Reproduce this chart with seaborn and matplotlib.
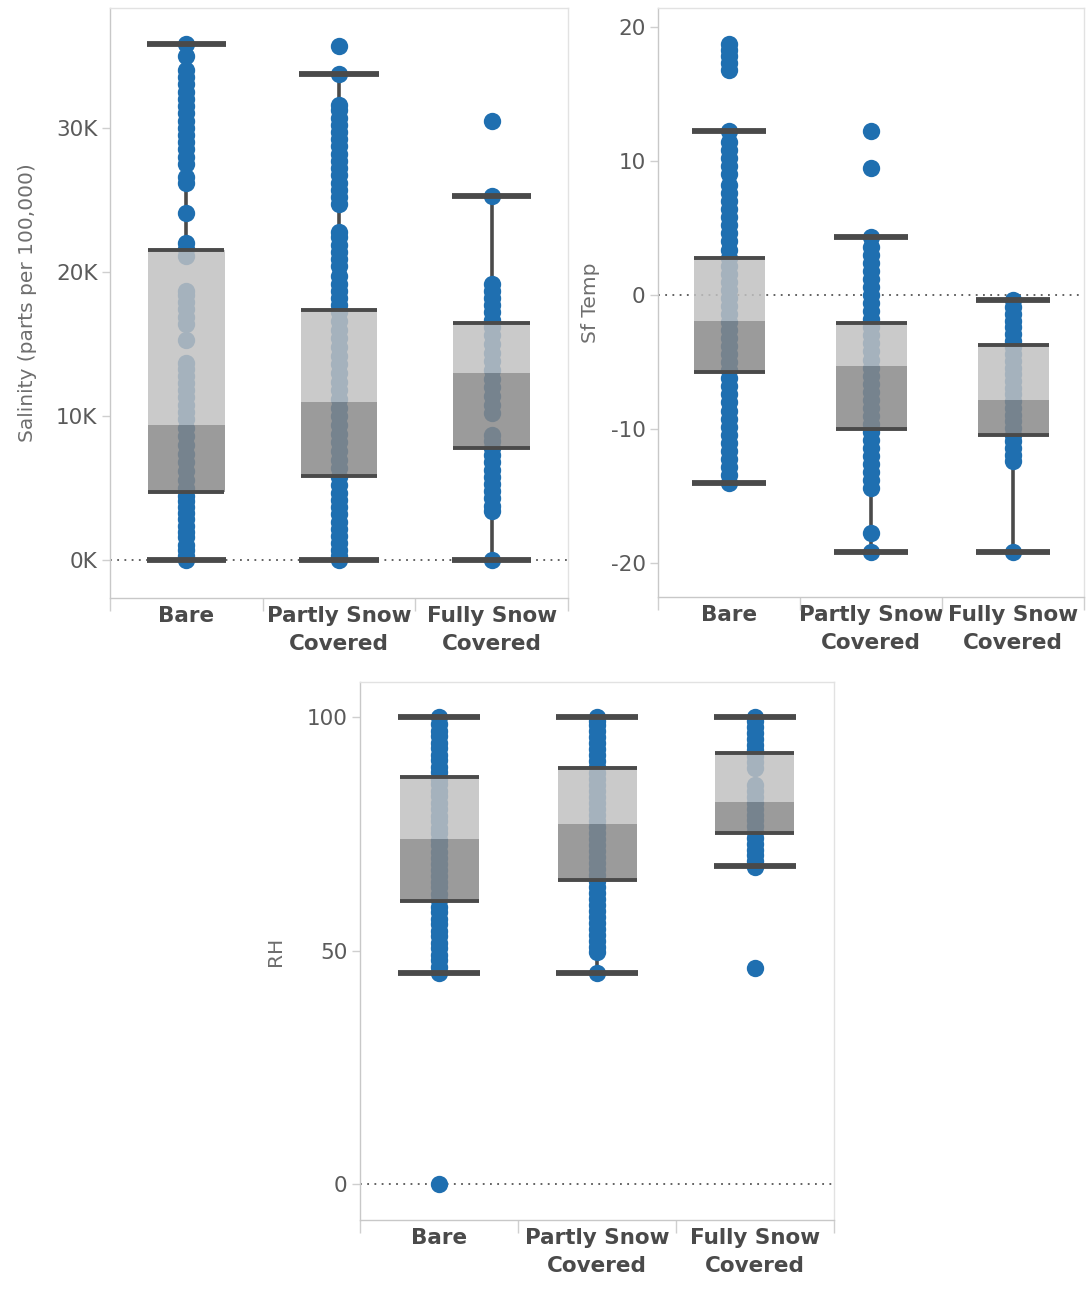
import numpy as np
import pandas as pd
import matplotlib
matplotlib.use("Agg")
import matplotlib.pyplot as plt
import seaborn as sns

# ---- categories -------------------------------------------------------------
categories = ["Bare", "Partly Snow\nCovered", "Fully Snow\nCovered"]

# ---- salinity (parts per 100,000) -------------------------------------------
sal_bare = [0.0, 0.3, 0.7, 1.1, 1.6, 2.0, 2.4, 2.9, 3.3, 3.7, 4.1, 4.5, 5.0, 5.6,
            6.2, 6.8, 7.4, 8.0, 8.6, 9.2, 9.8, 10.3, 10.8, 11.3, 11.8, 12.3, 12.8,
            13.3, 13.7, 15.3, 16.4, 16.9, 17.4, 17.9, 18.4, 18.7, 21.1, 21.6, 22.0,
            24.1, 26.2, 26.6, 27.5, 28.0, 28.5, 29.0, 29.5, 30.0, 30.5, 31.0, 31.5,
            32.0, 32.5, 33.0, 33.5, 34.0, 35.0, 35.8]
sal_partly = [0.0, 0.3, 0.7, 1.2, 1.7, 2.2, 2.7, 3.2, 3.7, 4.2, 4.7, 5.2, 5.8, 6.4,
              7.0, 7.6, 8.2, 8.8, 9.4, 10.0, 10.6, 11.2, 11.8, 12.4, 13.0, 13.6,
              14.2, 14.8, 15.4, 16.0, 16.6, 17.2, 17.7, 18.2, 18.7, 19.2, 19.7,
              20.4, 20.9, 21.4, 21.9, 22.4, 22.8, 24.7, 25.2, 25.7, 26.2, 26.7,
              27.2, 27.7, 28.2, 28.7, 29.2, 29.7, 30.2, 30.7, 31.2, 31.6, 33.7, 35.7]
sal_fully = [0.0, 3.4, 3.8, 4.3, 4.8, 5.3, 5.8, 6.3, 6.8, 7.3, 7.8, 8.3, 8.7, 10.2,
             10.8, 11.4, 12.0, 12.6, 13.2, 13.8, 14.4, 15.0, 15.6, 16.2, 16.7, 17.2,
             17.7, 18.2, 18.7, 19.2, 25.3, 30.5]
sal_low = [0.0, 0.0, 0.0]
sal_q1 = [4.72, 5.83, 7.78]
sal_median = [9.37, 11.01, 13.0]
sal_q3 = [21.55, 17.39, 16.46]
sal_high = [35.8, 33.7, 25.3]

# ---- surface temperature ----------------------------------------------------
temp_bare = [-14.0, -13.4, -12.8, -12.2, -11.6, -11.0, -10.4, -9.8, -9.2, -8.6,
             -8.0, -7.4, -6.8, -6.2, -5.6, -5.0, -4.4, -3.8, -3.2, -2.6, -2.0,
             -1.4, -0.8, -0.2, 0.4, 1.0, 1.6, 2.2, 2.8, 3.4, 4.0, 4.6, 5.2, 5.8,
             6.4, 7.0, 7.6, 8.2, 9.0, 9.6, 10.2, 10.8, 11.4, 12.2, 16.8, 17.3,
             17.8, 18.3, 18.7]
temp_partly = [-19.15, -17.7, -14.4, -13.8, -13.2, -12.6, -12.0, -11.4, -10.8,
               -10.2, -9.6, -9.0, -8.4, -7.8, -7.2, -6.6, -6.0, -5.4, -4.8, -4.2,
               -3.6, -3.0, -2.4, -1.8, -1.2, -0.6, 0.0, 0.6, 1.2, 1.8, 2.4, 3.0,
               3.6, 4.3, 9.5, 12.2]
temp_fully = [-19.15, -12.4, -11.9, -11.4, -10.9, -10.4, -9.9, -9.4, -8.9, -8.4,
              -7.9, -7.4, -6.9, -6.4, -5.9, -5.4, -4.9, -4.4, -3.9, -3.4, -2.9,
              -2.4, -1.9, -1.4, -0.9, -0.4]
temp_low = [-14.0, -19.15, -19.15]
temp_q1 = [-5.7, -10.0, -10.4]
temp_median = [-1.9, -5.3, -7.8]
temp_q3 = [2.8, -2.1, -3.7]
temp_high = [12.2, 4.3, -0.4]

# ---- relative humidity ------------------------------------------------------
rh_bare = [0.0, 45.2, 46.4, 47.9, 49.0, 50.5, 51.6, 53.1, 54.2, 55.6, 56.8, 58.3,
           59.4, 60.9, 62.0, 63.5, 64.6, 66.0, 67.3, 68.5, 69.9, 71.1, 72.6, 73.7,
           75.2, 76.3, 77.8, 78.9, 80.4, 81.5, 83.0, 84.1, 85.6, 86.7, 88.2, 89.3,
           90.8, 91.9, 93.4, 94.5, 96.0, 97.1, 98.6, 100.0]
rh_partly = [45.2, 49.6, 50.8, 52.1, 53.3, 54.7, 55.9, 57.2, 58.5, 59.8, 61.0, 62.4,
             63.6, 64.9, 66.2, 67.5, 68.7, 70.1, 71.3, 72.6, 73.9, 75.2, 76.4,
             77.8, 79.0, 80.3, 81.6, 82.9, 84.1, 85.5, 86.7, 88.0, 89.3, 90.6,
             91.8, 93.2, 94.4, 95.7, 97.0, 98.3, 99.2, 100.0]
rh_fully = [46.3, 67.9, 69.1, 70.4, 71.6, 72.9, 74.1, 75.4, 76.6, 77.9, 79.1, 80.4,
            81.6, 82.9, 84.1, 85.5, 89.0, 90.3, 91.6, 92.9, 94.1, 95.4, 96.6,
            97.9, 99.1, 100.0]
rh_low = [45.2, 45.2, 68.0]
rh_q1 = [60.5, 65.2, 75.1]
rh_median = [73.8, 77.0, 81.7]
rh_q3 = [87.1, 89.1, 92.4]
rh_high = [100.0, 100.0, 100.0]

# ---- styling ----------------------------------------------------------------
DOT = "#1f6fb0"
LINE = "#4a4a4a"
LIGHT_BOX = "#c0c0c0"
DARK_BOX = "#888888"
BOX_ALPHA = 0.84

sns.set_style("white")
plt.rcParams["font.family"] = ["DejaVu Sans"]


def long_form(groups, scale=1.0):
    rows = []
    for cat, vals in zip(categories, groups):
        for v in vals:
            rows.append((cat, v * scale))
    return pd.DataFrame(rows, columns=["cover", "value"])


def draw_panel(ax, groups, low, q1, med, q3, high, scale, ylim, yticks,
               yticklabels, ylabel, label_x):
    df = long_form(groups, scale)
    low, q1, med, q3, high = (np.asarray(a) * scale for a in (low, q1, med, q3, high))
    pos = np.arange(len(categories))

    sns.stripplot(data=df, x="cover", y="value", order=categories, jitter=False,
                  size=12.5, color=DOT, linewidth=0, ax=ax, zorder=3)

    # whiskers
    ax.vlines(pos, q3, high, color=LINE, lw=2.6, zorder=2)
    ax.vlines(pos, low, q1, color=LINE, lw=2.6, zorder=2)
    # two-tone box, laid over the dots
    ax.bar(pos, q3 - med, bottom=med, width=0.5, color=LIGHT_BOX,
           alpha=BOX_ALPHA, linewidth=0, zorder=4)
    ax.bar(pos, med - q1, bottom=q1, width=0.5, color=DARK_BOX,
           alpha=BOX_ALPHA, linewidth=0, zorder=4)
    ax.hlines(q1, pos - 0.25, pos + 0.25, color=LINE, lw=2.8, zorder=5)
    ax.hlines(q3, pos - 0.25, pos + 0.25, color=LINE, lw=2.8, zorder=5)
    ax.hlines(low, pos - 0.26, pos + 0.26, color=LINE, lw=4.2, zorder=5)
    ax.hlines(high, pos - 0.26, pos + 0.26, color=LINE, lw=4.2, zorder=5)

    ax.axhline(0, color="#555555", lw=1.3, ls=(0, (1, 3)), zorder=1)

    ax.set_xlim(-0.5, len(categories) - 0.5)
    ax.set_ylim(*ylim)
    ax.set_xlabel("")
    ax.set_xticks(pos)
    ax.set_xticklabels(categories, fontweight="bold", fontsize=15.5,
                       color="#4a4a4a", linespacing=1.5)
    ax.set_xticks(np.arange(-0.5, len(categories), 1.0), minor=True)
    ax.tick_params(axis="x", which="major", length=0, pad=6)
    ax.tick_params(axis="x", which="minor", bottom=True, length=9, width=1,
                   color="#cfcfcf", direction="out")
    ax.set_yticks(yticks)
    ax.set_yticklabels(yticklabels)
    ax.tick_params(axis="y", left=True, length=6, width=1, color="#cfcfcf",
                   labelsize=15.5, labelcolor="#5a5a5a", pad=3)
    ax.set_ylabel(ylabel, fontsize=14.5, color="#6e6e6e")
    ax.yaxis.set_label_coords(label_x, 0.5)
    for side in ("left", "bottom"):
        ax.spines[side].set_color("#c8c8c8")
        ax.spines[side].set_linewidth(1)
    for side in ("top", "right"):
        ax.spines[side].set_color("#e2e2e2")
        ax.spines[side].set_linewidth(1)


W, H = 1086, 1293
fig = plt.figure(figsize=(W / 100, H / 100), dpi=100)
ax1 = fig.add_axes([110 / W, 1 - 598 / H, 458 / W, 590 / H])
ax2 = fig.add_axes([658 / W, 1 - 597 / H, 426 / W, 589 / H])
ax3 = fig.add_axes([360 / W, 1 - 1220 / H, 474 / W, 538 / H])

draw_panel(ax1, [sal_bare, sal_partly, sal_fully], sal_low, sal_q1, sal_median,
           sal_q3, sal_high, 1000.0, (-2600, 38300),
           [0, 10000, 20000, 30000], ["0K", "10K", "20K", "30K"],
           "Salinity (parts per 100,000)", -0.16)
draw_panel(ax2, [temp_bare, temp_partly, temp_fully], temp_low, temp_q1,
           temp_median, temp_q3, temp_high, 1.0, (-22.5, 21.4),
           [-20, -10, 0, 10, 20], ["-20", "-10", "0", "10", "20"],
           "Sf Temp", -0.136)
draw_panel(ax3, [rh_bare, rh_partly, rh_fully], rh_low, rh_q1, rh_median,
           rh_q3, rh_high, 1.0, (-7.7, 107.5),
           [0, 50, 100], ["0", "50", "100"], "RH", -0.158)

fig.savefig("out.png", dpi=100)
